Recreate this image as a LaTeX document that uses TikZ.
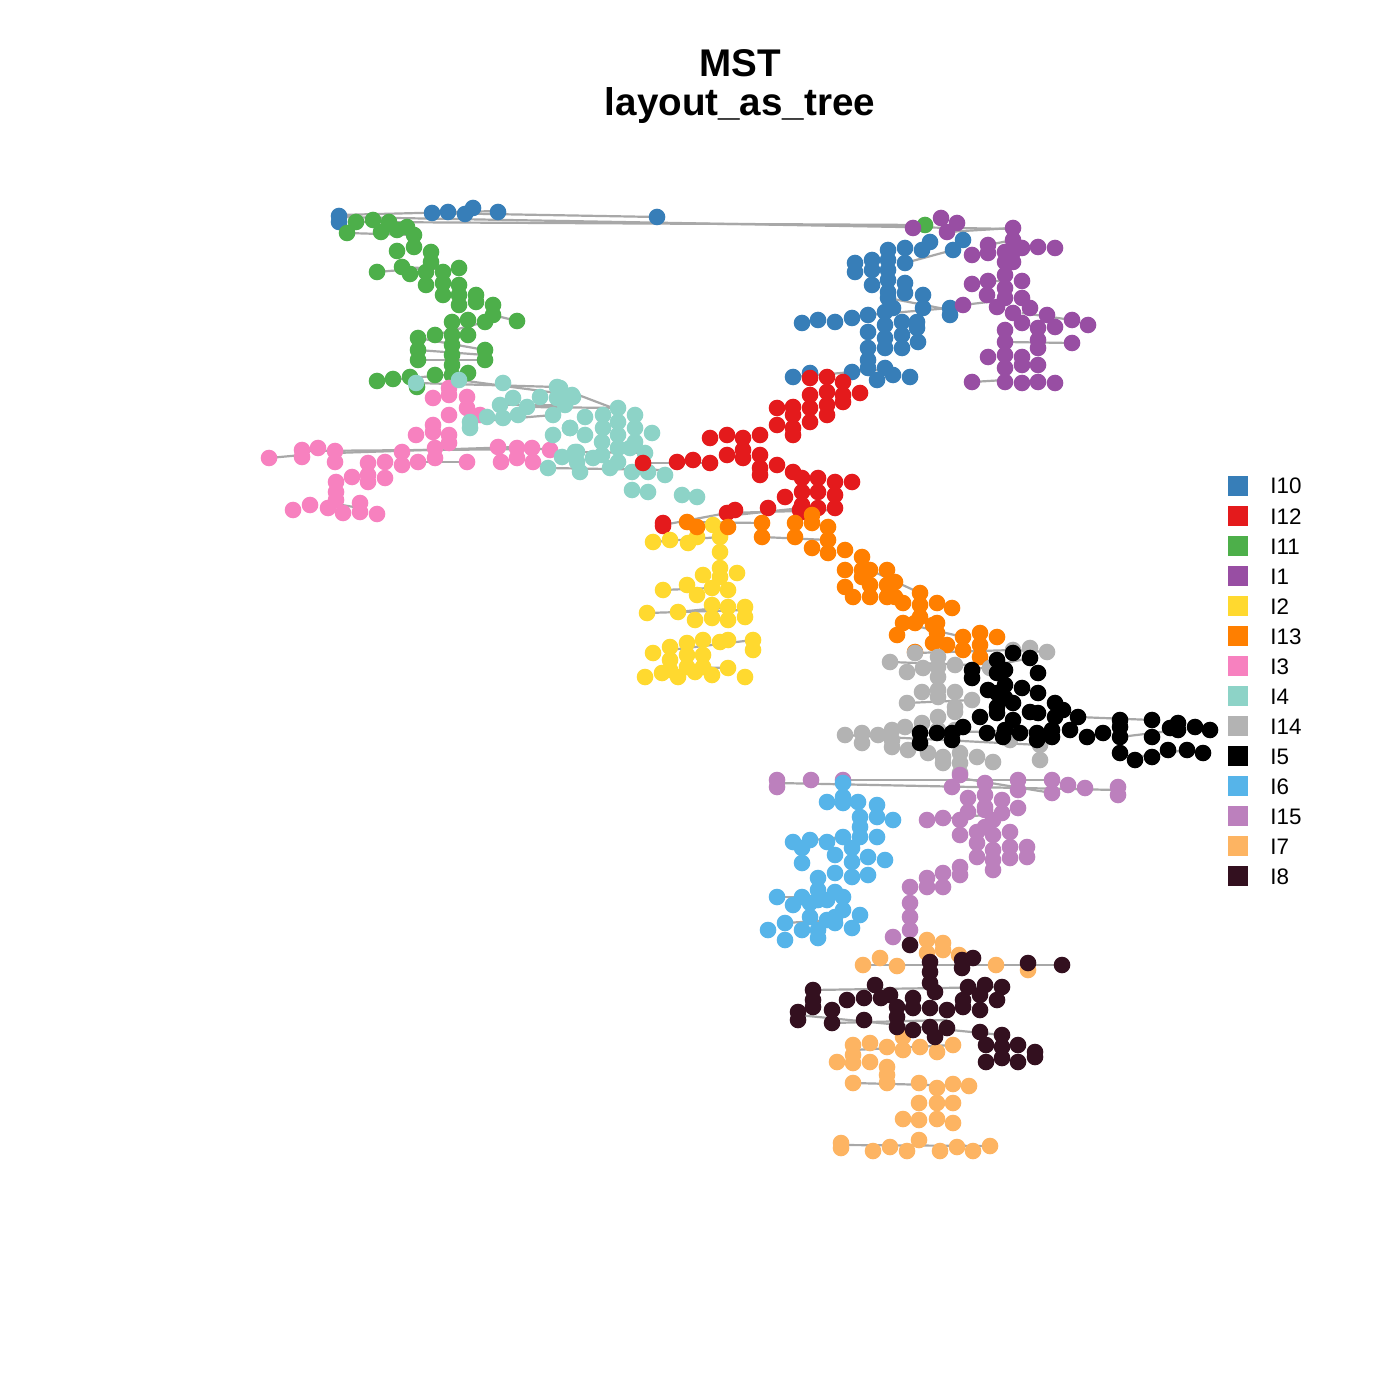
\documentclass[tikz,border=0pt]{standalone}
\usepackage{fontspec}
\setmainfont{Liberation Sans}
\definecolor{cI10}{HTML}{377EB8}
\definecolor{cI12}{HTML}{E41A1C}
\definecolor{cI11}{HTML}{4DAF4A}
\definecolor{cI1}{HTML}{984EA3}
\definecolor{cI2}{HTML}{FFD92F}
\definecolor{cI13}{HTML}{FF7F00}
\definecolor{cI3}{HTML}{F781BF}
\definecolor{cI4}{HTML}{8DD3C7}
\definecolor{cI14}{HTML}{B3B3B3}
\definecolor{cI5}{HTML}{000000}
\definecolor{cI6}{HTML}{56B4E9}
\definecolor{cI15}{HTML}{BC80BD}
\definecolor{cI7}{HTML}{FDB462}
\definecolor{cI8}{HTML}{33101F}
\definecolor{edgegray}{HTML}{A8A8A8}
\tikzset{
  edge/.style={draw=edgegray, line width=1.1pt},
  legbox/.style={minimum width=10pt, minimum height=10pt, inner sep=0pt},
  legtext/.style={anchor=base west, font=\fontsize{11.2}{13}\selectfont, inner sep=0pt},
  titletext/.style={anchor=base, font=\bfseries\fontsize{19.3}{22}\selectfont, inner sep=0pt}
}
\newcommand{\dotset}[2]{\foreach \p in {#2} {\fill[#1] \p circle[radius=4.15pt];}}
\begin{document}
\begin{tikzpicture}[x=0.5pt,y=-0.5pt]
\useasboundingbox (0,0) rectangle (1400,1400);
\fill[white] (0,0) rectangle (1400,1400);
% title
\node[titletext] (t1) at (740,77) {MST};
\node[titletext] (t2) at (740,116) {layout\_as\_tree};
% edges
\foreach \a/\b in {
 {(339,217)}/{(1013,229)}, {(339,215)}/{(498,211)}, {(356,222)}/{(925,225)}, {(432,213)}/{(657,217)},
 {(347,233)}/{(414,235)}, {(377,272)}/{(426,268)}, {(402,267)}/{(459,270)},
 {(418,338)}/{(485,350)}, {(418,350)}/{(485,355)}, {(418,360)}/{(485,360)}, {(435,335)}/{(485,322)},
 {(493,315)}/{(517,321)}, {(377,381)}/{(468,373)}, {(416,383)}/{(557,387)}, {(459,380)}/{(572,395)},
 {(470,422)}/{(553,415)}, {(500,405)}/{(565,405)}, {(527,407)}/{(618,408)},
 {(269,458)}/{(302,455)}, {(302,451)}/{(550,449)}, {(335,453)}/{(517,447)}, {(418,462)}/{(467,462)},
 {(336,504)}/{(360,508)}, {(548,468)}/{(665,470)}, {(560,388)}/{(618,410)}, {(577,452)}/{(645,453)},
 {(793,377)}/{(877,370)}, {(868,315)}/{(950,308)}, {(888,298)}/{(950,310)}, {(905,263)}/{(953,250)},
 {(947,232)}/{(1013,228)}, {(988,245)}/{(1013,240)}, {(972,284)}/{(1005,280)}, {(963,305)}/{(1005,300)},
 {(1005,342)}/{(1072,343)}, {(972,382)}/{(1005,380)}, {(1022,313)}/{(1072,320)},
 {(643,463)}/{(710,463)}, {(663,525)}/{(727,513)}, {(727,513)}/{(835,510)}, {(735,515)}/{(802,508)},
 {(687,522)}/{(762,523)}, {(762,537)}/{(828,540)}, {(653,542)}/{(720,537)},
 {(663,590)}/{(712,588)}, {(647,613)}/{(745,610)}, {(678,612)}/{(728,607)}, {(670,650)}/{(753,640)},
 {(687,667)}/{(728,668)}, {(870,570)}/{(920,593)}, {(903,623)}/{(963,637)},
 {(890,662)}/{(972,665)}, {(915,653)}/{(1013,650)}, {(1013,650)}/{(1047,652)}, {(907,703)}/{(972,700)},
 {(845,735)}/{(1040,745)}, {(920,733)}/{(1052,730)}, {(1078,717)}/{(1152,720)},
 {(1120,737)}/{(1178,730)}, {(1135,757)}/{(1187,750)}, {(972,670)}/{(1030,658)},
 {(777,783)}/{(1118,790)}, {(843,780)}/{(1052,780)}, {(960,778)}/{(1052,793)}, {(927,820)}/{(985,815)},
 {(785,923)}/{(835,920)}, {(777,897)}/{(810,897)}, {(793,842)}/{(843,837)},
 {(863,965)}/{(1062,965)}, {(813,990)}/{(1002,987)}, {(798,1015)}/{(1002,1035)}, {(832,1023)}/{(947,1020)},
 {(841,1145)}/{(990,1146)}, {(853,1083)}/{(969,1086)}, {(853,1050)}/{(953,1045)}}
 {\draw[edge] \a -- \b;}
% I10 blue
\dotset{cI10}{(339,216),(339,222),(432,213),(448,212),(465,214),(473,208),(498,212),(657,217),
 (855,263),(855,272),(872,260),(872,270),(872,285),(888,250),(888,260),(888,270),(888,280),(888,292),
 (905,248),(905,263),(905,283),(905,293),(888,298),(922,250),(930,242),(923,295),(923,308),(917,322),(917,328),
 (950,308),(950,315),(953,250),(963,240),(802,323),(818,320),(835,322),(852,318),(868,315),(868,332),
 (885,312),(885,325),(885,338),(885,348),(893,308),(902,322),(902,335),(902,348),(918,342),
 (868,348),(868,360),(868,368),(852,372),(877,380),(885,368),(893,375),(910,377),(793,377),(810,373)}
% I11 green
\dotset{cI11}{(356,222),(347,233),(373,220),(381,232),(389,222),(397,230),(407,227),(414,235),(414,247),(397,251),
 (431,252),(431,262),(377,272),(402,267),(410,274),(426,272),(426,285),(443,272),(443,283),(443,295),
 (459,268),(459,285),(459,295),(459,305),(476,295),(476,302),(493,305),(493,315),(485,322),(517,321),
 (468,320),(468,335),(452,322),(452,335),(452,345),(452,355),(452,365),(452,375),(435,335),
 (418,338),(418,350),(418,360),(485,350),(485,360),(377,381),(393,379),(410,377),(417,387),(435,375),(468,373),
 (925,225)}
% I1 purple
\dotset{cI1}{(913,228),(941,218),(947,232),(957,223),(972,255),(988,245),(988,253),
 (1013,228),(1013,240),(1013,252),(1013,262),(1005,252),(1005,262),(1005,275),(1005,288),(1005,298),
 (1022,248),(1038,247),(1055,248),(972,284),(988,281),(1022,281),(963,305),(987,295),(997,307),(1022,298),
 (1013,313),(1030,308),(1022,323),(1047,315),(1055,327),(1072,320),(1088,325),(1005,330),
 (1038,328),(1038,340),(1038,348),(1072,343),(1005,342),(1005,355),(1005,368),(1005,382),
 (988,357),(1022,357),(1022,365),(1038,365),(972,382),(1022,383),(1038,382),(1055,383)}
% I3 pink
\dotset{cI3}{(269,458),(302,450),(302,457),(318,448),(335,451),(335,462),(336,482),(336,492),(336,500),
 (352,477),(368,463),(368,475),(368,482),(385,462),(385,478),(402,452),(402,465),(418,462),(416,435),
 (433,425),(433,432),(435,458),(435,448),(433,398),(449,388),(449,395),(449,415),(449,435),(449,443),
 (467,397),(467,408),(467,462),(480,415),(498,447),(501,462),(517,448),(517,458),(532,448),(533,462),(550,450),
 (293,510),(310,505),(328,508),(343,513),(360,503),(360,512),(377,514)}
% I4 teal
\dotset{cI4}{(416,383),(459,380),(503,383),(557,387),(572,395),(557,398),(540,397),(513,398),(500,405),
 (527,407),(518,415),(503,418),(487,417),(470,422),(470,428),(553,415),(565,405),(553,435),(570,428),
 (562,457),(548,468),(575,452),(580,472),
 (560,388),(560,398),(573,397),(585,417),(570,428),(585,435),(603,415),(603,428),(618,408),(618,422),(618,435),
 (635,415),(635,428),(635,442),(652,433),(602,442),(602,455),(618,448),(618,462),(577,452),(577,462),(593,458),
 (610,468),(630,448),(645,453),(632,472),(632,490),(648,472),(648,492),(665,475),(682,495),(697,497)}
% I12 red
\dotset{cI12}{(810,378),(810,395),(810,408),(810,422),(827,377),(827,392),(827,405),(827,415),
 (843,382),(843,395),(843,402),(860,393),(793,407),(793,415),(793,428),(793,435),(777,408),(777,425),
 (760,435),(743,438),(743,450),(743,458),(727,435),(710,438),(727,455),(710,463),(693,460),(677,462),
 (760,455),(760,468),(760,475),(777,465),(793,472),(785,497),(802,478),(802,492),(802,505),(802,512),
 (818,478),(818,492),(818,508),(835,482),(835,495),(835,508),(852,482),(768,508),(643,463),
 (727,513),(735,510),(663,523),(663,526),(800,510)}
% I2 yellow
\dotset{cI2}{(713,525),(653,542),(670,540),(688,543),(697,537),(720,537),(720,552),(720,568),(720,577),(737,573),
 (703,575),(687,585),(697,595),(712,588),(712,605),(712,618),(728,590),(728,607),(663,590),(745,607),(745,617),
 (678,612),(695,620),(647,613),(728,620),(728,640),(720,642),(753,640),(753,650),(653,653),(670,647),(670,660),(670,670),
 (687,643),(687,655),(687,667),(703,640),(703,655),(703,667),(645,677),(662,673),(678,677),(695,672),(712,675),(728,668),(745,677)}
% I13 orange
\dotset{cI13}{(687,522),(697,527),(728,527),(762,523),(762,537),(795,523),(795,537),(812,515),(812,523),
 (828,527),(828,540),(828,553),(812,548),(845,550),(862,557),(862,570),(862,577),(845,570),(845,587),(853,597),
 (870,570),(870,585),(870,597),(887,570),(887,585),(887,597),(895,582),(895,597),(903,603),(920,593),(920,605),(920,617),
 (937,603),(903,623),(897,635),(937,623),(937,633),(952,608),(915,623),(933,625),(933,643),(947,645),
 (963,637),(963,650),(980,633),(980,645),(980,657),(997,637),(915,652)}
% I14 gray
\dotset{cI14}{(890,662),(907,672),(915,653),(923,668),(938,657),(938,667),(938,677),(938,690),(938,697),(955,665),
 (922,692),(907,703),(955,692),(955,707),(972,700),(938,717),(938,730),(955,712),(955,730),(922,723),(905,727),
 (1013,650),(1030,648),(1047,652),(845,735),(862,733),(862,743),(878,735),(892,730),(892,740),(892,747),
 (908,750),(928,753),(943,757),(943,763),(960,753),(960,763),(960,773),(977,757),(993,762),(1010,740),
 (1040,745),(1040,760),(990,668)}
% I5 black
\dotset{cI5}{(972,670),(972,678),(997,660),(997,673),(997,693),(1013,653),(1005,670),(1005,685),(1005,698),
 (1030,658),(1038,673),(988,690),(1022,688),(1038,693),(1038,713),(1055,703),(1055,717),(1063,710),
 (1013,703),(1013,720),(997,707),(997,713),(980,717),(1005,730),(1030,712),(1078,717),
 (920,733),(920,743),(937,733),(952,733),(952,740),(963,727),(987,733),(1003,737),(1020,733),
 (1037,733),(1037,740),(1052,730),(1052,737),(1070,730),(1087,737),(1103,733),
 (1120,720),(1120,727),(1120,737),(1120,753),(1135,760),(1152,720),(1152,737),(1152,757),(1168,750),
 (1170,728),(1178,723),(1178,730),(1195,727),(1210,730),(1187,750),(1203,753)}
% I15 light purple
\dotset{cI15}{(777,780),(777,787),(811,780),(843,780),(960,775),(952,787),(985,783),(985,795),(985,807),(968,798),
 (1002,800),(1002,813),(1018,780),(1018,790),(1018,808),(1052,780),(1052,793),(1068,785),(1085,788),
 (1118,787),(1118,795),(927,820),(943,818),(960,820),(968,812),(960,835),(985,810),(985,827),
 (993,820),(993,835),(993,850),(993,860),(993,870),(977,832),(977,843),(1010,832),(1010,847),(1010,858),
 (1027,847),(1027,857),(977,857),(960,867),(960,875),(943,873),(943,887),(927,878),(927,887),
 (910,887),(910,903),(910,917),(910,930),(893,937)}
% I6 sky blue
\dotset{cI6}{(843,783),(843,797),(843,803),(827,802),(858,802),(877,805),(877,817),(893,820),(860,817),(860,827),(860,837),
 (877,837),(843,837),(827,842),(810,840),(793,842),(802,848),(802,863),(835,855),(852,848),(852,862),(852,877),
 (868,857),(885,860),(835,873),(868,875),(818,878),(818,890),(818,900),(777,897),(793,905),(802,897),
 (810,903),(810,917),(827,900),(827,920),(835,892),(835,917),(843,897),(843,910),(860,915),
 (785,923),(785,940),(802,930),(818,930),(818,938),(835,923),(852,928),(768,930)}
% I7 light orange
\dotset{cI7}{(927,940),(943,943),(943,950),(959,955),(927,953),(863,965),(880,958),(897,966),(996,965),(1028,970),
 (853,1045),(853,1055),(853,1063),(870,1043),(887,1047),(903,1037),(903,1050),(920,1047),(937,1052),(953,1045),
 (837,1062),(870,1062),(887,1067),(887,1075),(887,1083),(853,1083),(919,1083),(937,1088),(937,1103),(953,1084),
 (969,1086),(953,1103),(953,1123),(919,1103),(919,1120),(919,1140),(903,1119),(937,1119),
 (841,1143),(841,1148),(873,1151),(890,1147),(907,1151),(940,1151),(957,1147),(973,1151),(990,1146)}
% I8 dark
\dotset{cI8}{(910,945),(930,962),(930,972),(930,983),(935,992),(962,960),(962,968),(973,958),(1028,963),(1062,965),
 (813,990),(813,1000),(813,1007),(798,1012),(798,1020),(832,1010),(832,1023),(847,1000),(864,998),(875,985),
 (881,998),(890,995),(897,1007),(897,1017),(897,1027),(913,998),(913,1008),(913,1030),(864,1020),
 (930,1008),(930,1027),(935,1037),(947,1010),(947,1028),(963,1000),(963,1007),(968,987),(980,995),(980,1010),
 (985,985),(997,1000),(1002,987),(980,1032),(986,1045),(986,1062),(1002,1035),(1002,1047),(1002,1058),
 (1018,1045),(1018,1062),(1035,1052),(1035,1057)}
% legend
\foreach \c/\l [count=\i from 0] in {cI10/I10,cI12/I12,cI11/I11,cI1/I1,cI2/I2,cI13/I13,cI3/I3,cI4/I4,cI14/I14,cI5/I5,cI6/I6,cI15/I15,cI7/I7,cI8/I8}{
  \node[legbox, fill=\c] (lb\i) at (1238,486+30*\i) {};
  \node[legtext] (lt\i) at (1270,494+30*\i) {\l};
}
\end{tikzpicture}
\end{document}
